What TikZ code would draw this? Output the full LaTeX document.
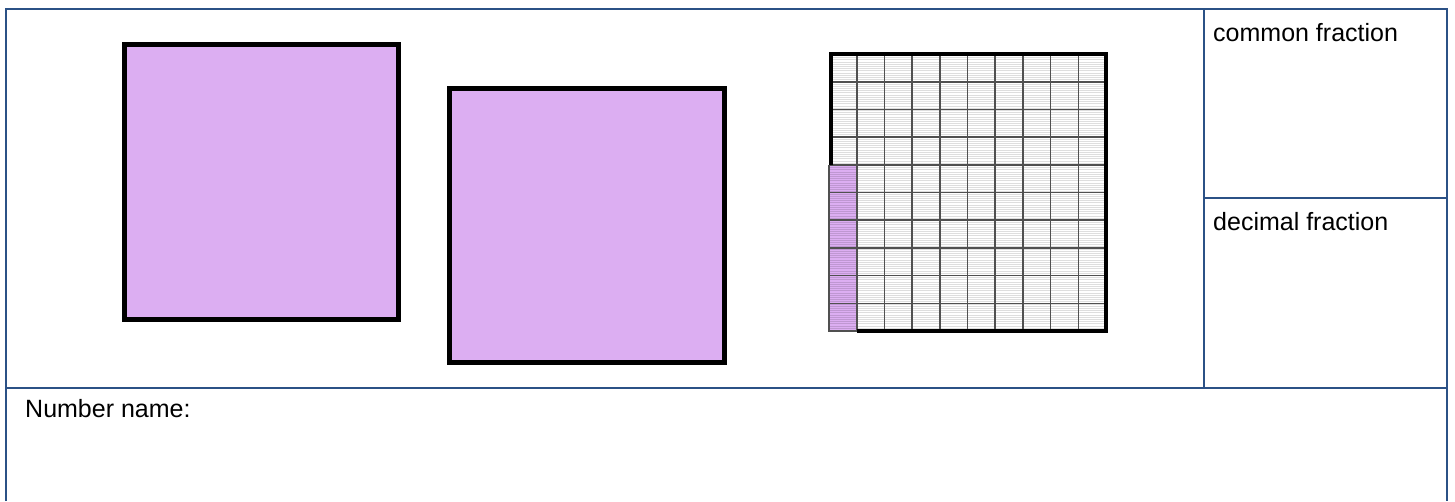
\documentclass[tikz,border=0pt]{standalone}
\usepackage{fontspec}
\setmainfont{Liberation Sans}
\definecolor{framec}{HTML}{2B5186}
\definecolor{lilac}{HTML}{DCAEF2}
\definecolor{gridc}{HTML}{505050}
\tikzset{
  frameline/.style={draw=framec, line width=2.2pt},
  bigsq/.style={draw=black, fill=lilac, line width=5pt},
  label/.style={anchor=base west, inner sep=0pt, font=\fontsize{25}{30}\selectfont, text=black},
  gridline/.style={draw=gridc, line width=1.6pt},
  hatch/.style={draw=black, opacity=0.13, line width=0.9pt},
  thickborder/.style={draw=black, line width=4.5pt}
}
\begin{document}
\begin{tikzpicture}[x=1pt, y=-1pt]
\useasboundingbox (0,0) rectangle (1455,501);
\fill[white] (0,0) rectangle (1455,501);
% frame
\coordinate (tl) at (6,9);
\coordinate (tr) at (1447,9);
\coordinate (bl) at (6,501);
\coordinate (br) at (1447,501);
\coordinate (vt) at (1204,9);
\coordinate (vb) at (1204,388);
\coordinate (ml) at (6,388);
\coordinate (mr) at (1447,388);
\coordinate (rl) at (1204,198);
\coordinate (rr) at (1447,198);
\draw[frameline] (bl) -- (tl) -- (tr) -- (br);
\draw[frameline] (vt) -- (vb);
\draw[frameline] (ml) -- (mr);
\draw[frameline] (rl) -- (rr);
% labels
\node[label] (cf) at (1213,41) {common fraction};
\node[label] (df) at (1213,230) {decimal fraction};
\node[label] (nn) at (25,417) {Number name:};
% big squares
\draw[bigsq] (124.5,44.5) rectangle (398.5,319.5);
\draw[bigsq] (449.5,88.5) rectangle (724.5,362.5);
% hundred grid
\fill[white] (829,54) rectangle (1106,331);
\fill[lilac] (829,164.8) rectangle (856.7,331);
\foreach \k in {0,...,125} {
  \draw[hatch] (829,{55.5+2.2*\k}) -- (1106,{55.5+2.2*\k});
}
\foreach \i in {1,...,9} {
  \draw[gridline] ({829+27.7*\i},54) -- ({829+27.7*\i},331);
  \draw[gridline] (829,{54+27.7*\i}) -- (1106,{54+27.7*\i});
}
\draw[gridline] (829,164.8) -- (829,331) -- (856.7,331);
\draw[thickborder] (831,164.8) -- (831,54) -- (1106,54) -- (1106,331) -- (856.7,331);
\end{tikzpicture}
\end{document}
